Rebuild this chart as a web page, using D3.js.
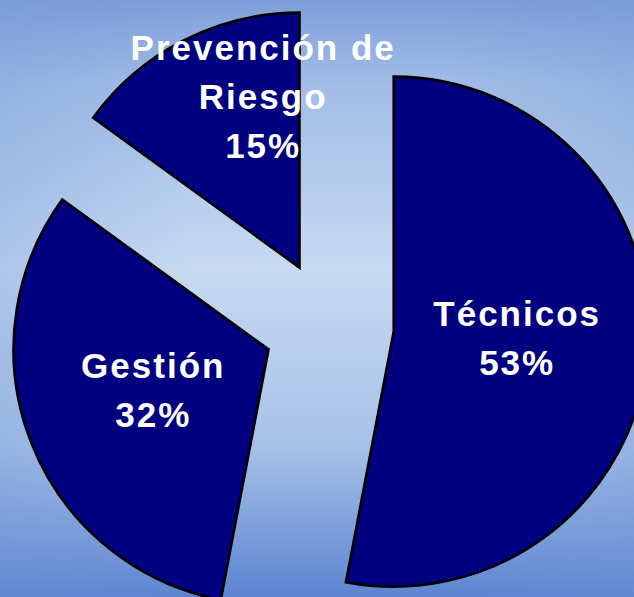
<!DOCTYPE html>
<html>
<head>
<meta charset="utf-8">
<script src="https://cdn.jsdelivr.net/npm/d3@7"></script>
<style>
  body { margin: 0; background: #fff; }
  svg { display: block; }
</style>
</head>
<body>
<svg id="chart"></svg>
<script>
// data
const categories = ["Técnicos", "Gestión", "Prevención de Riesgo"];
const shares = [53, 32, 15];
const labelLines = [["Técnicos"], ["Gestión"], ["Prevención de", "Riesgo"]];

const width = 634;
const height = 597;
const cx = 329;
const cy = 325.5;
const radius = 255;
const explode = 65;
const labelR = 124;
const lineH = 49;

const svg = d3.select("#chart")
      .attr("width", width)
      .attr("height", height)
      .attr("viewBox", [0, 0, width, height]);

const defs = svg.append("defs");
const vg = defs.append("linearGradient")
      .attr("id", "bgV")
      .attr("x1", 0).attr("y1", 0).attr("x2", 0).attr("y2", 1);
[["0%", "#7d9ed9"], ["14%", "#a1bce6"], ["45%", "#c6daf2"], ["75%", "#a6c0e7"], ["100%", "#5c84d1"]]
  .forEach(([o, c]) => vg.append("stop").attr("offset", o).attr("stop-color", c));
const hg = defs.append("linearGradient")
      .attr("id", "bgH")
      .attr("x1", 0).attr("y1", 0).attr("x2", 1).attr("y2", 0);
[["0%", 0.28], ["30%", 0], ["70%", 0], ["100%", 0.28]]
  .forEach(([o, a]) => hg.append("stop").attr("offset", o)
    .attr("stop-color", "#6f93d6").attr("stop-opacity", a));

svg.append("rect").attr("width", width).attr("height", height).attr("fill", "url(#bgV)");
svg.append("rect").attr("width", width).attr("height", height).attr("fill", "url(#bgH)");

const pie = d3.pie().sort(null).value(d => d);
const arcs = pie(shares);
const arc = d3.arc().innerRadius(0).outerRadius(radius);

const mid = a => (a.startAngle + a.endAngle) / 2;
const off = (a, r) => [Math.sin(mid(a)) * r, -Math.cos(mid(a)) * r];

svg.append("g")
  .selectAll("path")
  .data(arcs)
  .join("path")
    .attr("transform", d => {
      const [dx, dy] = off(d, explode);
      return `translate(${cx + dx},${cy + dy})`;
    })
    .attr("d", arc)
    .attr("fill", "#000080")
    .attr("stroke", "#000")
    .attr("stroke-width", 2.6)
    .attr("stroke-linejoin", "miter");

// small slice label sits higher, as in the picture
const nudge = [[0, 0], [0, 0], [20, -55]];

const labels = svg.append("g")
      .attr("font-family", "Liberation Sans, Arial, sans-serif")
      .attr("font-weight", "bold")
      .attr("font-size", 35)
      .attr("letter-spacing", 2)
      .attr("fill", "#fff")
      .attr("text-anchor", "middle");

arcs.forEach((a, i) => {
  const [ex, ey] = off(a, explode);
  const [lx, ly] = off(a, labelR);
  const x = cx + ex + lx + nudge[i][0];
  const y = cy + ey + ly + nudge[i][1];
  const lines = labelLines[i].concat([shares[i] + "%"]);
  const n = lines.length;
  lines.forEach((t, j) => {
    labels.append("text")
      .attr("x", x)
      .attr("y", y + (j - (n - 1) / 2) * lineH + 7)
      .text(t);
  });
});
</script>
</body>
</html>
